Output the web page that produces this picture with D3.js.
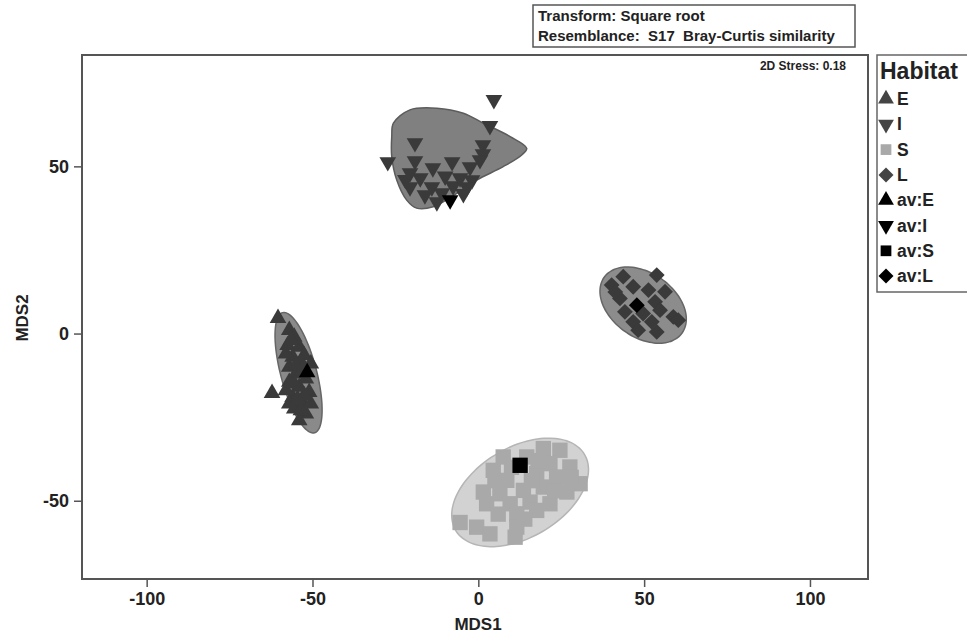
<!DOCTYPE html>
<html>
<head>
<meta charset="utf-8">
<script src="https://cdn.jsdelivr.net/npm/d3@7"></script>
<style>
  body { margin: 0; background: #fff; }
  text { font-family: "Liberation Sans", Arial, sans-serif; font-weight: bold; fill: #222; }
</style>
</head>
<body>
<div id="chart"></div>
<script>
// Data (MDS1, MDS2)
const habitats = ['E', 'I', 'S', 'L'];
const ptsE = [[-60.4, 4.6], [-62.2, -17.8], [-57, 1], [-55.5, -1], [-57.5, -3.5], [-54, -4], [-52.5, -6.5],
  [-56, -7], [-53.5, -8.5], [-57, -10], [-50.5, -9], [-55, -12], [-52, -13.5], [-57, -14.5], [-54, -16],
  [-51, -17.5], [-56, -19], [-53, -20.5], [-55.5, -22.5], [-52, -24], [-54, -26], [-50.5, -21],
  [-58, -6], [-55, -9.5], [-58, -17], [-53, -11], [-55.5, -15], [-52.5, -18.5], [-57, -21], [-53.5, -23],
  [-56.5, -2], [-54.5, -19.5]];
const ptsI = [[4.7, 69.9], [3.5, 62.1], [-19.1, 57.0], [1.4, 56.4], [1.4, 53.7], [-27.3, 51.3], [-19.1, 51.6],
  [-7.9, 51.3], [-13.7, 49.5], [-2.5, 49.8], [-20.6, 48.0], [0.5, 51.9], [-20.6, 43.8], [-14.0, 43.8],
  [-7.6, 44.1], [-1.9, 45.9], [-3.4, 43.8], [-16.1, 41.4], [-12.5, 39.3], [-5.5, 46.5],
  [-22, 46], [-10, 47], [-4.5, 41.8], [-17.5, 46.5], [-11, 42]];
const ptsS = [[19.6, -34.4], [24.6, -34.9], [14.6, -36.9], [7.5, -36.9], [21.6, -38.9], [27.6, -39.9],
  [4.5, -40.9], [17.6, -41.9], [23.6, -42.9], [8.6, -43.9], [30.7, -44.9], [1.5, -47.4], [6.5, -47.9],
  [13.6, -46.9], [19.6, -45.9], [26.7, -47.4], [2.5, -50.9], [9.6, -50.9], [15.6, -50.4], [21.6, -50.9],
  [11.6, -53.9], [17.6, -52.9], [-0.5, -57.9], [3.5, -59.9], [11.6, -57.9], [11.1, -60.9], [-5.5, -56.5],
  [5, -44], [16, -44], [23, -47], [28, -43], [10, -40], [18, -38], [6, -54], [14, -55.5]];
const ptsL = [[43.7, 17.0], [53.8, 17.5], [40.2, 14.5], [46.7, 14.0], [51.3, 13.0], [56.3, 12.5], [42.7, 10.5],
  [53.3, 9.5], [44.2, 6.5], [49.7, 6.0], [54.8, 7.0], [58.8, 5.0], [46.7, 3.5], [52.3, 3.5], [60.3, 4.0],
  [48.2, 1.0], [53.8, 0.5], [41.3, 12.4]];
// group averages
const avgs = { E: [-51.6, -11.6], I: [-8.5, 39.9], S: [12.6, -39.4], L: [47.8, 8.5] };
// ellipse envelopes: [cx, cy, semi-major, semi-minor, angle deg]
const ellE = [-54.2, -11.7, 18.6, 5.4, 105];
const ellL = [49.7, 8.5, 14.4, 9.6, -35];
const ellS = [12.6, -47.5, 22.5, 13.5, 30];
// outline of the I envelope
const hullI = [[-25.6, 62.9], [-20.6, 66.9], [-12.5, 67.4], [-4.5, 65.9], [1.5, 62.9], [9.6, 58.9], [14.6, 55.4],
  [13.1, 53.4], [7.5, 49.9], [-0.5, 45.9], [-6.5, 41.9], [-13.6, 37.9], [-18.6, 37.5], [-21.6, 39.9],
  [-24.6, 45.9], [-26.1, 52.9], [-26.1, 58.9]];
const xTicks = [-100, -50, 0, 50, 100];
const yTicks = [-50, 0, 50];
const legendLabels = ['E', 'I', 'S', 'L', 'av:E', 'av:I', 'av:S', 'av:L'];

const width = 967, height = 639;
const svg = d3.select("#chart").append("svg")
  .attr("width", width).attr("height", height);

const x = d3.scaleLinear().domain([-119.5, 117.5]).range([82, 868]);
const y = d3.scaleLinear().domain([-73.4, 83.3]).range([579, 55]);

const markColor = "#3a3a3a";
const fillOf = { E: markColor, I: markColor, S: "#a9a9a9", L: markColor };

// symbol paths
const tri = d3.symbol().type(d3.symbolTriangle).size(120)();
const sq = d3.symbol().type(d3.symbolSquare).size(235)();
const dia = d3.symbol().type(d3.symbolSquare).size(125)();
function symbolFor(h) {
  if (h === 'E') return { d: tri, rot: 0 };
  if (h === 'I') return { d: tri, rot: 180 };
  if (h === 'S') return { d: sq, rot: 0 };
  return { d: dia, rot: 45 };
}

// frame
svg.append("rect")
  .attr("x", 82).attr("y", 55).attr("width", 786).attr("height", 524)
  .attr("fill", "none").attr("stroke", "#555").attr("stroke-width", 2);

// envelopes
function ellipsePts(e) {
  const [cx, cy, a, b, ang] = e;
  const th = ang * Math.PI / 180;
  return d3.range(0, 64).map(i => {
    const t = i / 64 * 2 * Math.PI;
    const px = a * Math.cos(t), py = b * Math.sin(t);
    return [cx + px * Math.cos(th) - py * Math.sin(th), cy + px * Math.sin(th) + py * Math.cos(th)];
  });
}
const closedLine = d3.line().x(d => x(d[0])).y(d => y(d[1])).curve(d3.curveCatmullRomClosed);
const hulls = [
  { pts: ellipsePts(ellS), fill: "#d2d2d2", stroke: "#b5b5b5" },
  { pts: ellipsePts(ellE), fill: "#8a8a8a", stroke: "#666" },
  { pts: ellipsePts(ellL), fill: "#8c8c8c", stroke: "#666" },
  { pts: hullI, fill: "#808080", stroke: "#5c5c5c" }
];
svg.selectAll(".hull").data(hulls).enter().append("path")
  .attr("class", "hull")
  .attr("d", d => closedLine(d.pts))
  .attr("fill", d => d.fill)
  .attr("stroke", d => d.stroke)
  .attr("stroke-width", 1.5);

// samples
const groups = { E: ptsE, I: ptsI, S: ptsS, L: ptsL };
habitats.forEach(h => {
  const s = symbolFor(h);
  svg.append("g").selectAll("path").data(groups[h]).enter().append("path")
    .attr("d", s.d)
    .attr("transform", d => `translate(${x(d[0])},${y(d[1])}) rotate(${s.rot})`)
    .attr("fill", fillOf[h]);
});
// averages
habitats.forEach(h => {
  const s = symbolFor(h);
  const d = avgs[h];
  svg.append("path")
    .attr("d", s.d)
    .attr("transform", `translate(${x(d[0])},${y(d[1])}) rotate(${s.rot})`)
    .attr("fill", "#000");
});

// axes
const xAxis = svg.append("g")
  .attr("transform", "translate(0,579)")
  .call(d3.axisBottom(x).tickValues(xTicks).tickFormat(d => String(d)).tickSize(8).tickPadding(5));
const yAxis = svg.append("g")
  .attr("transform", "translate(82,0)")
  .call(d3.axisLeft(y).tickValues(yTicks).tickFormat(d => String(d)).tickSize(8).tickPadding(5));
[xAxis, yAxis].forEach(a => {
  a.select(".domain").remove();
  a.selectAll("line").attr("stroke", "#555").attr("stroke-width", 1.5);
  a.selectAll("text").attr("font-size", 18).attr("font-family", "Liberation Sans, Arial, sans-serif")
    .attr("font-weight", "bold").attr("fill", "#222");
});

svg.append("text").attr("x", 478).attr("y", 630).attr("text-anchor", "middle")
  .attr("font-size", 17).text("MDS1");
svg.append("text").attr("transform", "translate(28,318) rotate(-90)").attr("text-anchor", "middle")
  .attr("font-size", 17).text("MDS2");

// info box
svg.append("rect").attr("x", 533).attr("y", 5).attr("width", 322).attr("height", 42)
  .attr("fill", "#fff").attr("stroke", "#555").attr("stroke-width", 1.5);
svg.append("text").attr("x", 538).attr("y", 21).attr("font-size", 15).text("Transform: Square root");
svg.append("text").attr("x", 538).attr("y", 41).attr("font-size", 15)
  .attr("xml:space", "preserve").style("white-space", "pre")
  .text("Resemblance:  S17  Bray-Curtis similarity");
svg.append("text").attr("x", 846).attr("y", 70).attr("text-anchor", "end")
  .attr("font-size", 12).text("2D Stress: 0.18");

// legend
svg.append("rect").attr("x", 877).attr("y", 55).attr("width", 100).attr("height", 237)
  .attr("fill", "#fff").attr("stroke", "#666").attr("stroke-width", 1.5);
svg.append("text").attr("x", 880).attr("y", 79).attr("font-size", 23).text("Habitat");
const leg = svg.selectAll(".leg").data(legendLabels).enter().append("g")
  .attr("class", "leg")
  .attr("transform", (d, i) => `translate(886,${99 + i * 25.3})`);
leg.append("path")
  .attr("d", (d, i) => symbolFor(habitats[i % 4]).d)
  .attr("transform", (d, i) => `rotate(${symbolFor(habitats[i % 4]).rot}) scale(${i % 4 === 2 ? 0.7 : 0.95})`)
  .attr("fill", (d, i) => i < 4 ? (i === 2 ? "#a9a9a9" : "#444") : "#000");
leg.append("text").attr("x", 11).attr("y", 6).attr("font-size", 17.5).text(d => d);
</script>
</body>
</html>
